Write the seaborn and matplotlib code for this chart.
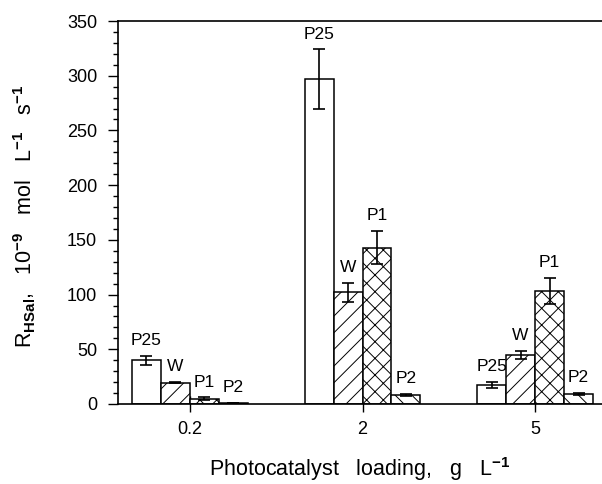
import matplotlib
matplotlib.use("Agg")
import matplotlib.pyplot as plt
import seaborn as sns
import pandas as pd
import numpy as np
from matplotlib.ticker import MultipleLocator

# ---- data ----
loadings = ["0.2", "2", "5"]
catalysts = ["P25", "W", "P1", "P2"]
rate_P25 = [40, 297, 17.5]
rate_W = [19.5, 102, 45]
rate_P1 = [5, 143, 103]
rate_P2 = [1, 8, 9]
err_P25 = [4, 27, 2.5]
err_W = [0.5, 9, 3.5]
err_P1 = [1, 15, 12]
err_P2 = [0.3, 1, 1]
hatches = ["", "//", "xx", "\\\\"]

rates = [rate_P25, rate_W, rate_P1, rate_P2]
errs = [err_P25, err_W, err_P1, err_P2]

rows = []
for c, vals in zip(catalysts, rates):
    for l, v in zip(loadings, vals):
        rows.append({"loading": l, "catalyst": c, "rate": v})
df = pd.DataFrame(rows)

sns.set_style("ticks")
plt.rcParams["font.family"] = ["Liberation Sans", "DejaVu Sans"]
plt.rcParams["mathtext.fontset"] = "custom"
plt.rcParams["mathtext.rm"] = "Liberation Sans"
plt.rcParams["mathtext.it"] = "Liberation Sans:italic"
plt.rcParams["mathtext.bf"] = "Liberation Sans:bold"
plt.rcParams["hatch.linewidth"] = 0.7
plt.rcParams["hatch.color"] = "black"
for k in ["text.color", "axes.labelcolor", "xtick.color", "ytick.color",
          "xtick.labelcolor", "ytick.labelcolor"]:
    plt.rcParams[k] = "black"

fig = plt.figure(figsize=(6.02, 4.84), dpi=100)
ax = fig.add_axes([118 / 602, 1 - 404 / 484, 484 / 602, 383 / 484])

sns.barplot(data=df, x="loading", y="rate", hue="catalyst", order=loadings,
            hue_order=catalysts, palette=["white"] * 4, width=0.672, gap=0,
            edgecolor="black", linewidth=1.1, legend=False, errorbar=None, ax=ax)

for cont, h, vals, ee, name in zip(ax.containers, hatches, rates, errs, catalysts):
    xs = []
    for p in cont.patches:
        p.set_hatch(h)
        p.set_edgecolor("black")
        xs.append(p.get_x() + p.get_width() / 2)
    ax.errorbar(xs, vals, yerr=ee, fmt="none", ecolor="black", elinewidth=1.2,
                capsize=4, capthick=1.2, zorder=5)
    for x, v, e in zip(xs, vals, ee):
        ax.text(x, v + e + 7, name, ha="center", va="bottom", fontsize=12.5,
                color="black")

ax.set_ylim(0, 350)
ax.set_xlim(-0.417, 2.388)
ax.yaxis.set_major_locator(MultipleLocator(50))
ax.yaxis.set_minor_locator(MultipleLocator(10))
ax.tick_params(axis="y", which="major", direction="out", length=7, width=1.0,
               labelsize=13, pad=8, colors="black")
ax.tick_params(axis="y", which="minor", direction="out", length=3.5, width=1.0,
               colors="black")
ax.tick_params(axis="x", which="major", direction="inout", length=11, width=1.0,
               labelsize=13, pad=7, colors="black")

for s in ["left", "top", "bottom"]:
    ax.spines[s].set_linewidth(1.2)
    ax.spines[s].set_color("black")
ax.spines["right"].set_visible(False)

ax.set_xlabel(r"Photocatalyst   loading,   g   L$^{\mathbf{-1}}$", fontsize=15.5,
              labelpad=12, color="black")
ax.set_ylabel(r"R$_{\mathbf{HSal}}$,   10$^{\mathbf{-9}}$   mol   L$^{\mathbf{-1}}$   s$^{\mathbf{-1}}$",
              fontsize=15.5, color="black")
ax.yaxis.set_label_coords(-0.165, 0.49)

fig.savefig("out.png", dpi=100)
